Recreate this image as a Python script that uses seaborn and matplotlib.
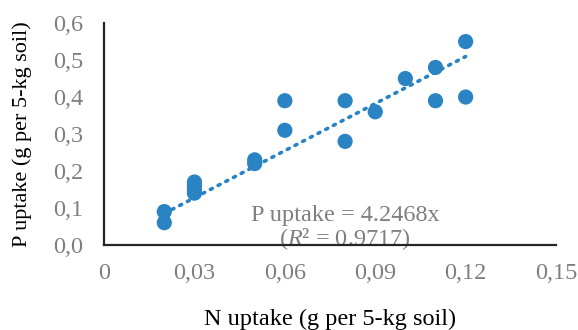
import numpy as np
import pandas as pd
import seaborn as sns
import matplotlib.pyplot as plt
from matplotlib.ticker import FuncFormatter

# N and P uptake (g per 5-kg soil)
n_uptake = [0.02, 0.02, 0.03, 0.03, 0.03, 0.03, 0.05, 0.05, 0.06,
            0.06, 0.08, 0.08, 0.09, 0.10, 0.11, 0.11, 0.12, 0.12]
p_uptake = [0.09, 0.06, 0.17, 0.16, 0.15, 0.14, 0.23, 0.22, 0.39,
            0.31, 0.39, 0.28, 0.36, 0.45, 0.48, 0.39, 0.55, 0.40]
slope = 4.2468
r2 = 0.9717
x_ticks = [0, 0.03, 0.06, 0.09, 0.12, 0.15]
y_ticks = [0, 0.1, 0.2, 0.3, 0.4, 0.5, 0.6]

df = pd.DataFrame({'N': n_uptake, 'P': p_uptake})
trend_x = np.array([min(n_uptake), max(n_uptake)])
trend = pd.DataFrame({'N': trend_x, 'P': slope * trend_x})

sns.set_style('white')
plt.rcParams['font.family'] = ['Liberation Serif', 'DejaVu Serif']
plt.rcParams['mathtext.fontset'] = 'custom'
plt.rcParams['mathtext.rm'] = 'Liberation Serif'
plt.rcParams['mathtext.it'] = 'Liberation Serif:italic'
blue = '#2A84C4'
grey = '#7F7F7F'

fig = plt.figure(figsize=(5.78, 3.30), dpi=100)
ax = fig.add_axes([0.18, 0.258, 0.782, 0.672])

sns.lineplot(data=trend, x='N', y='P', ax=ax, color=blue, linestyle=(0, (0.6, 1.8)),
             linewidth=2.6, dash_capstyle='round', zorder=3)
sns.scatterplot(data=df, x='N', y='P', ax=ax, color=blue, s=120, edgecolor='none', zorder=4)

ax.set_xlim(0, 0.15)
ax.set_ylim(0, 0.6)
ax.set_xticks(x_ticks)
ax.set_yticks(y_ticks)
ax.xaxis.set_major_formatter(FuncFormatter(lambda v, p: '0' if v == 0 else f'{v:.2f}'.replace('.', ',')))
ax.yaxis.set_major_formatter(FuncFormatter(lambda v, p: f'{v:.1f}'.replace('.', ',')))
ax.tick_params(axis='both', length=0, labelsize=17.5, labelcolor=grey)
ax.tick_params(axis='x', pad=13)
ax.tick_params(axis='y', pad=15)

for side in ['top', 'right']:
    ax.spines[side].set_visible(False)
for side in ['left', 'bottom']:
    ax.spines[side].set_color('#262626')
    ax.spines[side].set_linewidth(1.6)
    ax.spines[side].set_zorder(5)

ax.set_xlabel('N uptake (g per 5-kg soil)', fontsize=17.5, color='black', labelpad=18)
ax.set_ylabel('P uptake (g per 5-kg soil)', fontsize=16, color='black', labelpad=15)

ax.text(0.080, 0.080, f'P uptake = {slope}x', fontsize=17.5, color=grey,
        ha='center', va='center', zorder=1)
ax.text(0.080, 0.016, f'($R$² = {r2})', fontsize=17.5, color=grey,
        ha='center', va='center', zorder=1, clip_on=False)

fig.savefig('out.png', dpi=100)
